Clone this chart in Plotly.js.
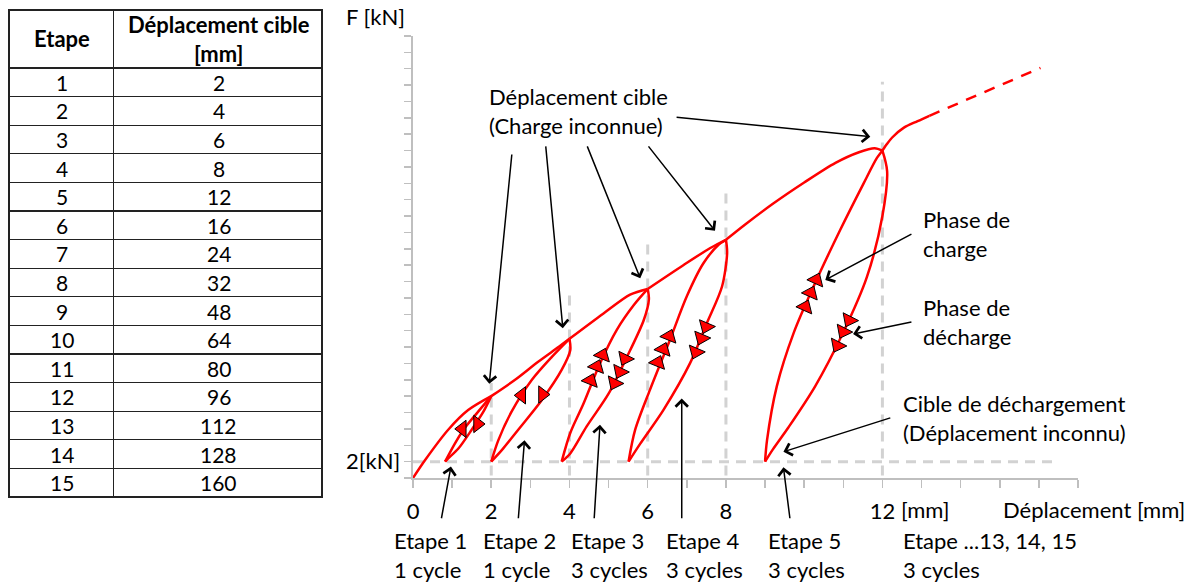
<!DOCTYPE html>
<html>
<head>
<meta charset="utf-8">
<script src="https://cdn.plot.ly/plotly-3.0.1.min.js"></script>
<style>html,body{margin:0;padding:0;background:#fff;}#chart{width:1198px;height:583px;}</style>
</head>
<body>
<div id="chart"></div>
<script>
// ---------- table data ----------
const tableHeader = ['Etape', 'Déplacement cible<br>[mm]'];
const etapes = [1,2,3,4,5,6,7,8,9,10,11,12,13,14,15];
const deplacementCible = [2,4,6,8,12,16,24,32,48,64,80,96,112,128,160];

// ---------- axis ticks ----------
const xTickVals = [0,1,2,3,4,5,6,7,8,9,10,11,12,13,14,15,16,17];
const xTickText = ['0','','2','','4','','6','','8','','','','12','','','','',''];

// ---------- envelope (target displacement path), segments split by null ----------
const envX = [0,0.31,0.9,1.41,2, null, 2,2.61,3.2,3.72,4, null, 4,4.87,5.55,6, null, 6,6.91,7.6,8, null, 8,8.5,9.2,10.0,10.8,11.4,11.8,12];
const envY = [0,2.2,5.9,8.3,10, null, 10,12.0,14.2,16.0,17, null, 17,20.1,22.4,23.1, null, 23.1,26.0,28.1,29.1, null, 29.1,31.0,33.5,36.1,38.5,39.8,40.3,40];

// ---------- loading branches (bottom -> peak) ----------
const loadX = [0.82,1.07,1.29,1.63,2, null,
               2.0,2.18,2.52,3.04,3.55,4, null,
               3.8,4.02,4.36,4.78,5.21,5.64,6, null,
               5.51,5.68,6.06,6.57,7.0,7.42,7.81,8, null,
               9.0,9.05,9.3,9.73,10.24,10.92,11.52,11.86,12,12.1,12.25,12.55,12.9,13.2];
const loadY = [2,4.2,5.9,7.9,10, null,
               2,4.6,8.1,12.0,14.8,17, null,
               2,5.5,9.1,14.0,18.1,21.1,23.1, null,
               2,5.9,10.8,16.9,22.2,26.2,28.5,29.1, null,
               2,4.6,11.2,17.7,23.4,30.3,36.0,39.1,40,40.7,41.6,42.8,43.6,44.25];

// ---------- unloading branches (peak -> bottom) ----------
const unloadX = [2,1.80,1.50,1.16,0.90,0.82, null,
                 4,4.02,3.80,3.29,2.69,2.27,2.0, null,
                 6,6.03,5.9,5.45,5.0,4.44,4.02,3.8, null,
                 8,8.03,7.9,7.51,7.08,6.40,5.81,5.51, null,
                 12,12.12,12.0,11.6,11.0,10.28,9.6,9.2,9.0];
const unloadY = [10,8.1,5.9,3.6,2.4,2, null,
                 17,15.6,13.2,9.5,5.9,3.4,2, null,
                 23.1,21.8,19.3,14.6,10.3,6.3,3.0,2, null,
                 29.1,27.5,23.4,18.9,14.0,8.3,4.2,2, null,
                 40,37.5,32.0,24.5,17.8,11.2,6.2,3.5,2];

// ---------- extrapolated (dashed) continuation ----------
const extX = [13.2,16.04];
const extY = [44.25,50.1];

// ---------- direction triangles ----------
const upTriX = [4.54,4.70,4.85, 6.26,6.40,6.55, 10.03,10.17,10.31];
const upTriY = [11.9,13.6,15.0, 14.1,15.7,17.3, 20.9,22.6,24.2];
const upTriAngle = [22,22,22, 22,22,22, 24,24,24];
const downTriX = [5.42,5.29,5.15, 7.49,7.37,7.23, 11.15,11.0,10.85];
const downTriY = [14.6,13.0,11.6, 18.5,17.1,15.4, 19.3,17.9,16.2];
const downTriAngle = [26,26,26, 23,23,23, 27,27,27];
const leftTriX = [1.26,2.78];
const leftTriY = [6.0,10.1];
const rightTriX = [1.65,3.31];
const rightTriY = [6.6,10.2];

// ---------- guide lines ----------
const guideX = [2,4,6,8,12];
const guideTop = [11.6,22.4,29.1,34.8,48.4];
const guideBottom = 0.3;
const unloadLevel = 2;
const unloadLevelEnd = 16.4;

// ---------- annotation arrows (head <- tail), data units ----------
const arrowHeadX = [1.95,3.83,5.81,7.72,11.69, 10.54,11.25,9.47, 0.97,2.85,4.78,6.87,9.47];
const arrowHeadY = [11.5,18.3,24.4,30.2,41.7, 24.2,17.6,3.2, 1.4,4.6,6.5,9.7,1.3];
const arrowTailX = [2.53,3.39,4.44,5.99,6.70, 12.78,12.78,12.24, 0.72,2.69,4.63,6.87,9.64];
const arrowTailY = [39.7,40.7,40.7,40.7,44.1, 29.9,19.1,7.4, -5.1,-5.1,-5.1,-5.1,-5.1];

// ---------- labels ----------
const stepLabels = ['Etape 1<br>1 cycle','Etape 2<br>1 cycle','Etape 3<br>3 cycles','Etape 4<br>3 cycles','Etape 5<br>3 cycles','Etape ...13, 14, 15<br>3 cycles'];

const W = 1198, H = 583;
const FONT = 'Lato, sans-serif';
const FS = 22;
const RED = '#ff0000';
const GRAY = '#d2d2d2';
const AXC = '#bfbfbf';
const SM = 0.85;

function px(x){return x/W;}
function py(y){return 1 - y/H;}

// table geometry (layout only)
const TBL = {left:9, mid:114, right:323, top:10, headH:58, rowH:28.6};
const tblBottom = TBL.top + TBL.headH + TBL.rowH*etapes.length;

// build guide line trace
const gX = [], gY = [];
guideX.forEach((g,i)=>{gX.push(g,g,null); gY.push(guideBottom,guideTop[i],null);});
gX.push(0,unloadLevelEnd); gY.push(unloadLevel,unloadLevel);

const blank = etapes.map(()=> '');
const traces = [
  {type:'table', domain:{x:[TBL.left/W,TBL.right/W], y:[1-(tblBottom+2)/H,1-TBL.top/H]},
   columnwidth:[TBL.mid-TBL.left, TBL.right-TBL.mid],
   header:{values:['',''], height:TBL.headH, line:{color:'#222',width:1.3}, fill:{color:'#fff'}, font:{size:10}},
   cells:{values:[blank,blank], height:TBL.rowH, line:{color:'#222',width:1.3}, fill:{color:'#fff'}, font:{size:10}}
  },
  {type:'scatter', mode:'lines', x:gX, y:gY, xaxis:'x', yaxis:'y', hoverinfo:'skip',
   line:{color:GRAY,width:3,dash:'10px,7px'}, cliponaxis:false},
  {type:'scatter', mode:'lines', x:envX, y:envY, hoverinfo:'skip', connectgaps:false,
   line:{color:RED,width:2.5,shape:'spline',smoothing:SM}, cliponaxis:false},
  {type:'scatter', mode:'lines', x:loadX, y:loadY, hoverinfo:'skip', connectgaps:false,
   line:{color:RED,width:2.5,shape:'spline',smoothing:SM}, cliponaxis:false},
  {type:'scatter', mode:'lines', x:unloadX, y:unloadY, hoverinfo:'skip', connectgaps:false,
   line:{color:RED,width:2.5,shape:'spline',smoothing:SM}, cliponaxis:false},
  {type:'scatter', mode:'lines', x:extX, y:extY, hoverinfo:'skip',
   line:{color:RED,width:2.5,dash:'11px,9px'}, cliponaxis:false},
  {type:'scatter', mode:'markers', x:upTriX, y:upTriY, hoverinfo:'skip',
   marker:{symbol:'triangle-up', size:15, angle:upTriAngle, color:RED, line:{color:'#000',width:1}}},
  {type:'scatter', mode:'markers', x:downTriX, y:downTriY, hoverinfo:'skip',
   marker:{symbol:'triangle-down', size:15, angle:downTriAngle, color:RED, line:{color:'#000',width:1}}},
  {type:'scatter', mode:'markers', x:leftTriX, y:leftTriY, hoverinfo:'skip',
   marker:{symbol:'triangle-left', size:15, color:RED, line:{color:'#000',width:1}}},
  {type:'scatter', mode:'markers', x:rightTriX, y:rightTriY, hoverinfo:'skip',
   marker:{symbol:'triangle-right', size:15, color:RED, line:{color:'#000',width:1}}}
];

const annotations = [];
arrowHeadX.forEach((hx,i)=>{
  annotations.push({xref:'x', yref:'y', axref:'x', ayref:'y', x:hx, y:arrowHeadY[i],
    ax:arrowTailX[i], ay:arrowTailY[i], text:'', showarrow:true, arrowhead:4, arrowsize:1.6,
    arrowwidth:1.5, arrowcolor:'#000', standoff:0, startstandoff:0});
});
function txt(t,x,y,opt){
  opt = opt || {};
  annotations.push({xref:'paper', yref:'paper', x:px(x), y:py(y), xanchor:opt.xanchor||'left', yanchor:'middle',
    text:t, showarrow:false, align:opt.align||'left',
    font:{family:FONT,size:opt.size||FS,color:'#000',weight:opt.weight||'normal'}, borderpad:0});
}
// table text
const c1 = (TBL.left+TBL.mid)/2, c2 = (TBL.mid+TBL.right)/2;
txt(tableHeader[0], c1, TBL.top+TBL.headH/2, {xanchor:'center',align:'center',size:22,weight:'bold'});
txt(tableHeader[1], c2, TBL.top+TBL.headH/2, {xanchor:'center',align:'center',size:22,weight:'bold'});
etapes.forEach((e,i)=>{
  const yc = TBL.top+TBL.headH+TBL.rowH*(i+0.5);
  txt(String(e), c1, yc, {xanchor:'center',align:'center',size:21});
  txt(String(deplacementCible[i]), c2, yc, {xanchor:'center',align:'center',size:21});
});

txt('F [kN]',345,17);
txt('2[kN]',345,460);
txt('Déplacement cible<br>(Charge inconnue)',488,111);
txt('Phase de<br>charge',922,234);
txt('Phase de<br>décharge',922,322);
txt('Cible de déchargement<br>(Déplacement inconnu)',902,418);
txt('[mm]',900,509);
txt('Déplacement [mm]',1002,509);
const stepLeft = [393,482,570,665,767,902];
stepLabels.forEach((s,i)=>txt(s,stepLeft[i],555));

const layout = {
  width:W, height:H, margin:{l:0,r:0,t:0,b:0}, paper_bgcolor:'#fff', plot_bgcolor:'#fff',
  showlegend:false, hovermode:false,
  xaxis:{domain:[413/W,1078/W], range:[0,17], showgrid:false, zeroline:false,
    showline:true, linecolor:AXC, linewidth:2, ticks:'outside', ticklen:8, tickwidth:1.5, tickcolor:AXC,
    tickmode:'array', tickvals:xTickVals, ticktext:xTickText, ticklabelstandoff:5,
    tickfont:{family:FONT,size:FS,color:'#000'}, fixedrange:true},
  yaxis:{domain:[1-478/H,1-36/H], range:[0,54], showgrid:false, zeroline:false,
    showline:true, linecolor:AXC, linewidth:2, ticks:'outside', ticklen:7, tickwidth:1.5, tickcolor:AXC,
    dtick:2, tick0:0, showticklabels:false, fixedrange:true},
  annotations:annotations
};

Plotly.newPlot('chart', traces, layout, {staticPlot:true, displayModeBar:false});
</script>
</body>
</html>
